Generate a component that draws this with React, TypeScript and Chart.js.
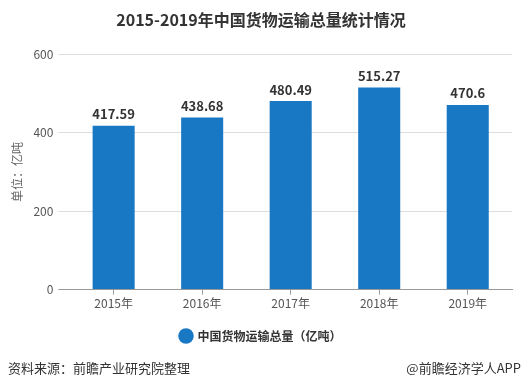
import React, { useEffect, useRef } from "react";
import { Chart, registerables } from "chart.js";

Chart.register(...registerables);

const categories = ["2015年", "2016年", "2017年", "2018年", "2019年"];
const values = [417.59, 438.68, 480.49, 515.27, 470.6];
const valueLabels = ["417.59", "438.68", "480.49", "515.27", "470.6"];
const seriesName = "中国货物运输总量（亿吨）";
const yTicks = [0, 200, 400, 600];

const FONT = "'Noto Sans CJK SC', 'Noto Sans', sans-serif";
const BAR = "#1878c4";

export default function App() {
  const ref = useRef<HTMLCanvasElement>(null);
  useEffect(() => {
    const labelPlugin = {
      id: "valueLabels",
      afterDatasetsDraw(chart: any) {
        const ctx = chart.ctx;
        const meta = chart.getDatasetMeta(0);
        ctx.save();
        ctx.font = `bold 13px ${FONT}`;
        ctx.fillStyle = "#333";
        ctx.textAlign = "center";
        ctx.textBaseline = "bottom";
        meta.data.forEach((el: any, i: number) => {
          ctx.fillText(valueLabels[i], el.x, el.y - 5);
        });
        ctx.restore();
      },
    };
    const footerPlugin = {
      id: "footer",
      afterDraw(chart: any) {
        const ctx = chart.ctx;
        ctx.save();
        ctx.font = `13px ${FONT}`;
        ctx.fillStyle = "#333";
        ctx.textBaseline = "middle";
        ctx.textAlign = "left";
        ctx.fillText("资料来源：前瞻产业研究院整理", 8, 368);
        ctx.textAlign = "right";
        ctx.fillText("@前瞻经济学人APP", 521, 368);
        ctx.restore();
      },
    };
    const chart = new Chart(ref.current!, {
      type: "bar",
      data: {
        labels: categories,
        datasets: [
          {
            label: seriesName,
            data: values,
            backgroundColor: BAR,
            borderWidth: 0,
            barPercentage: 0.95,
            categoryPercentage: 0.5,
          },
        ],
      },
      options: {
        animation: false,
        responsive: false,
        maintainAspectRatio: false,
        layout: { padding: { left: 10, right: 13, top: 0, bottom: 37 } },
        plugins: {
          title: {
            display: true,
            text: "2015-2019年中国货物运输总量统计情况",
            font: { family: FONT, size: 16, weight: "bold" },
            color: "#333",
            padding: { top: 10, bottom: 25 },
          },
          legend: {
            position: "bottom",
            labels: {
              usePointStyle: true,
              pointStyle: "circle",
              boxWidth: 11,
              boxHeight: 11,
              color: "#333",
              font: { family: FONT, size: 12, weight: "bold" },
              padding: 17,
            },
          },
          tooltip: { enabled: false },
        },
        scales: {
          x: {
            grid: {
              drawOnChartArea: false,
              drawTicks: true,
              tickLength: 5,
              offset: false,
              color: "#999",
            },
            border: { display: true, color: "#999" },
            ticks: {
              color: "#555",
              font: { family: FONT, size: 12 },
              padding: 2,
            },
          },
          y: {
            min: 0,
            max: 600,
            afterBuildTicks(axis: any) {
              axis.ticks = yTicks.map((v) => ({ value: v }));
            },
            grid: {
              color: (c: any) => (c.tick && c.tick.value === 0 ? "#999" : "#ddd"),
              tickLength: 11,
            },
            border: { display: false },
            ticks: {
              color: "#555",
              font: { family: FONT, size: 12 },
              padding: 5,
            },
            title: {
              display: true,
              text: "单位：亿吨",
              color: "#666",
              font: { family: FONT, size: 12 },
              padding: { top: 0, bottom: 4 },
            },
          },
        },
      },
      plugins: [labelPlugin, footerPlugin],
    });
    return () => chart.destroy();
  }, []);
  return (
    <div style={{ position: "fixed", left: 0, top: 0, width: 525, height: 389, background: "#fff" }}>
      <canvas ref={ref} width={525} height={389} style={{ width: 525, height: 389 }} />
    </div>
  );
}
